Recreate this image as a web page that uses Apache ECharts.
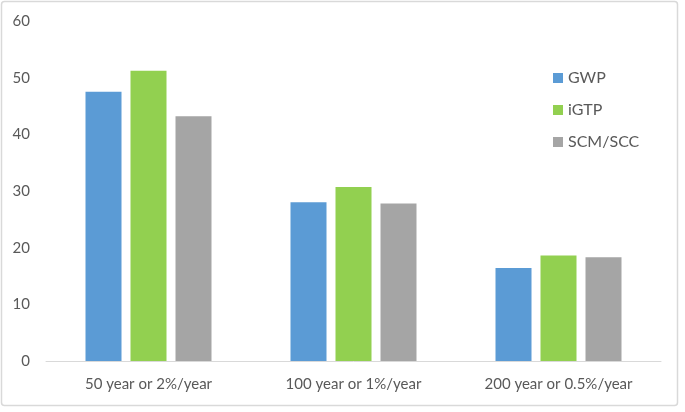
<!DOCTYPE html>
<html><head><meta charset="utf-8">
<script src="https://cdn.jsdelivr.net/npm/echarts@6/dist/echarts.min.js"></script>
<style>html,body{margin:0;padding:0;background:#fff}#c{width:685px;height:412px}</style>
</head><body><div id="c"></div>
<script>
const categories = ["50 year or 2%/year", "100 year or 1%/year", "200 year or 0.5%/year"];
const seriesNames = ["GWP", "iGTP", "SCM/SCC"];
const gwp = [47.5, 28.0, 16.4];
const igtp = [51.2, 30.7, 18.6];
const scm = [43.2, 27.8, 18.3];
const yTicks = [0, 10, 20, 30, 40, 50, 60];

const colors = ["#5B9BD5", "#92D050", "#A5A5A5"];
const font = "Lato, 'Open Sans', sans-serif";
const chart = echarts.init(document.getElementById('c'), null, {renderer: 'canvas'});
const values = [gwp, igtp, scm];
chart.setOption({
  animation: false,
  color: colors,
  graphic: [{type: 'rect', shape: {x: 1.5, y: 1.5, width: 676, height: 404, r: 3}, style: {fill: null, stroke: '#D9D9D9', lineWidth: 1.5}, silent: true, z: -10}],
  grid: {left: 46, right: 24, top: 21, bottom: 51, containLabel: false},
  legend: {
    orient: 'vertical', left: 553, top: 70, padding: 0,
    itemWidth: 10, itemHeight: 10, itemGap: 16,
    icon: 'rect',
    data: seriesNames,
    textStyle: {color: '#595959', fontSize: 16, fontFamily: font, lineHeight: 15}
  },
  xAxis: {
    type: 'category', data: categories,
    axisLine: {lineStyle: {color: '#D9D9D9', width: 1}},
    axisTick: {show: false},
    axisLabel: {color: '#595959', fontSize: 15, fontFamily: font, margin: 16}
  },
  yAxis: {
    type: 'value', min: yTicks[0], max: yTicks[yTicks.length - 1], interval: 10,
    axisLine: {show: false}, axisTick: {show: false},
    splitLine: {show: false},
    axisLabel: {color: '#595959', fontSize: 15, fontFamily: font, margin: 16}
  },
  series: seriesNames.map((n, i) => ({
    name: n, type: 'bar', data: values[i],
    barWidth: 36, barGap: '25%'
  }))
});
</script></body></html>
